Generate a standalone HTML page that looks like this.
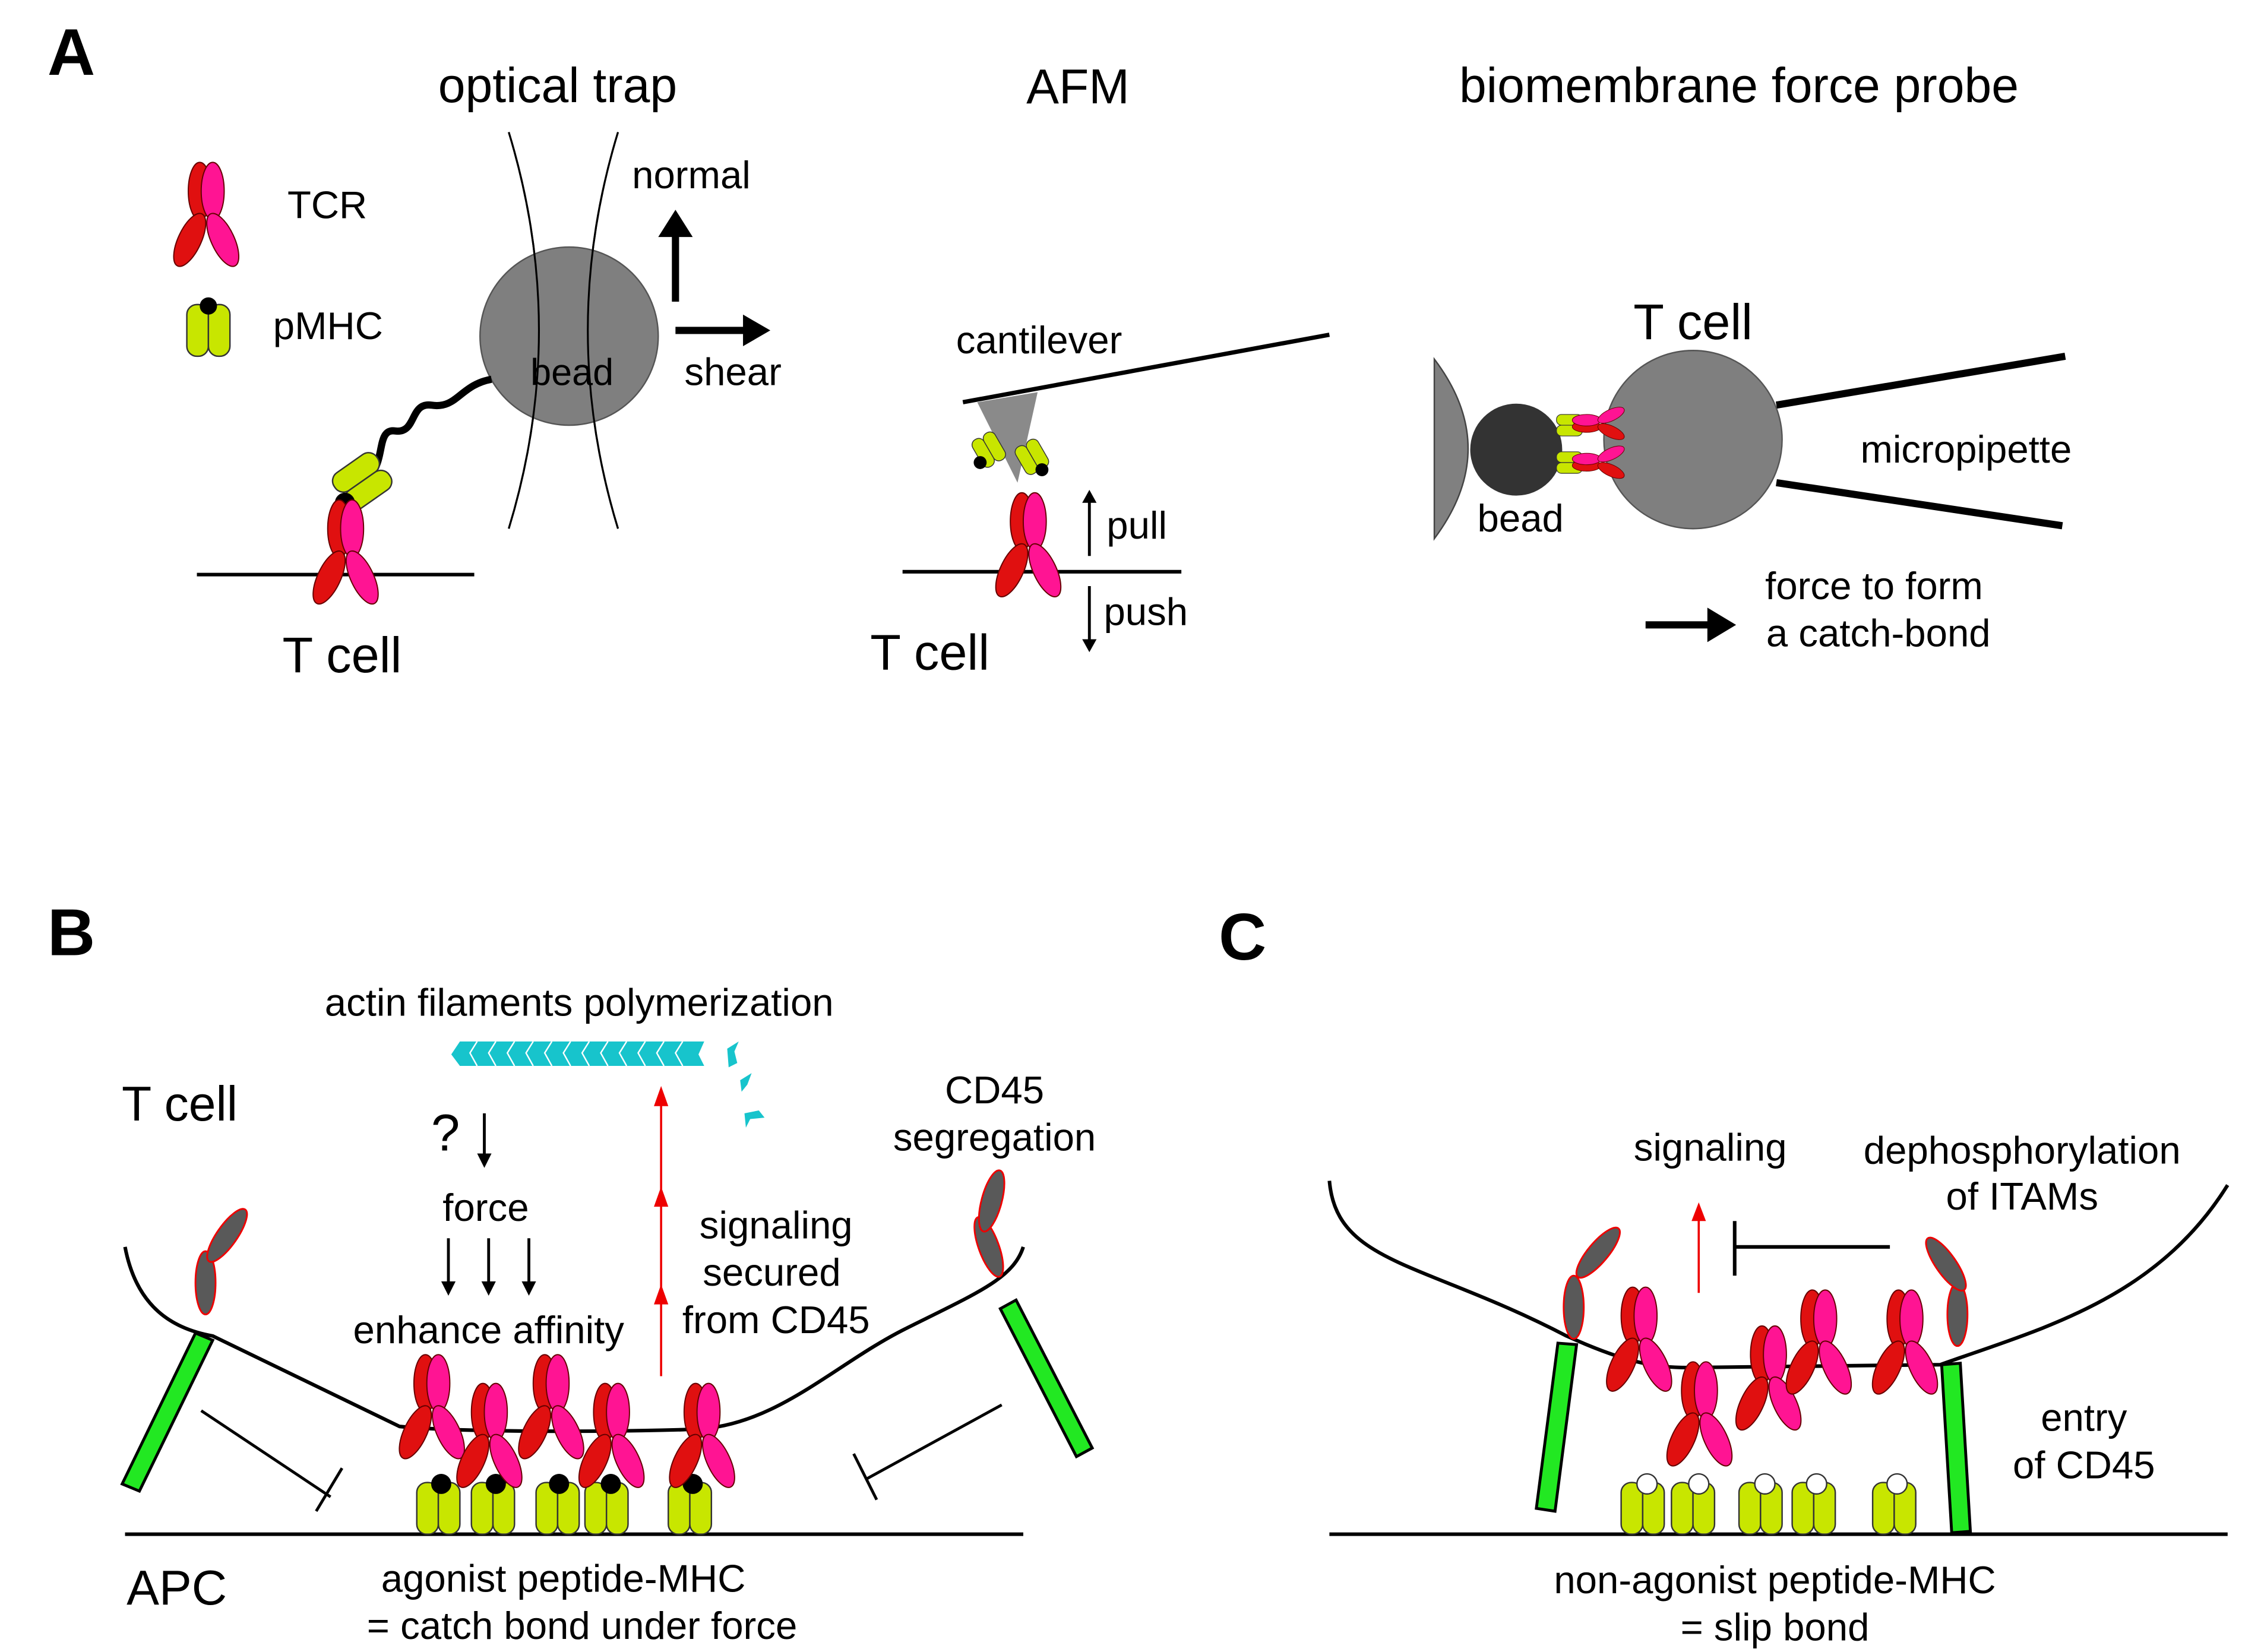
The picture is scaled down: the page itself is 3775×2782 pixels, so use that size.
<!DOCTYPE html>
<html><head><meta charset="utf-8"><style>
html,body{margin:0;padding:0;background:#fff;}
svg{display:block;}
text{font-family:"Liberation Sans",Arial,sans-serif;fill:#000;}
</style></head><body>
<svg width="3775" height="2782" viewBox="0 0 1560 1150" preserveAspectRatio="none" xmlns="http://www.w3.org/2000/svg">
<defs>
<g id="tcr">
  <ellipse cx="-4" cy="-22" rx="8" ry="20" fill="#e01010" stroke="#600" stroke-width="0.8"/>
  <ellipse cx="5" cy="-22" rx="8" ry="20" fill="#ff1493" stroke="#600" stroke-width="0.8"/>
  <ellipse cx="-11" cy="12" rx="8" ry="20" transform="rotate(25 -11 12)" fill="#e01010" stroke="#600" stroke-width="0.8"/>
  <ellipse cx="12" cy="12" rx="8" ry="20" transform="rotate(-25 12 12)" fill="#ff1493" stroke="#600" stroke-width="0.8"/>
</g>
<g id="mhc">
  <rect x="-15" y="-18" width="15" height="36" rx="7" fill="#c8e600" stroke="#333" stroke-width="1"/>
  <rect x="0" y="-18" width="15" height="36" rx="7" fill="#c8e600" stroke="#333" stroke-width="1"/>
</g>
<g id="cd45h">
  <ellipse cx="0" cy="0" rx="7" ry="22" fill="#595959" stroke="#e00" stroke-width="1.2"/>
</g>
</defs>

<!-- PANEL A -->
<text x="33" y="52" font-size="46" font-weight="bold">A</text>
<text x="388" y="71" font-size="34" text-anchor="middle">optical trap</text>
<text x="750" y="72" font-size="34" text-anchor="middle">AFM</text>
<text x="1210" y="71" font-size="34" text-anchor="middle">biomembrane force probe</text>

<!-- legend -->
<use href="#tcr" x="143" y="155"/>
<text x="200" y="152" font-size="27">TCR</text>
<use href="#mhc" x="145" y="230"/>
<circle cx="145" cy="213" r="6" fill="#000"/>
<text x="190" y="236" font-size="27">pMHC</text>

<!-- optical trap -->
<path d="M354,92 Q396,230 354,368" fill="none" stroke="#000" stroke-width="1.3"/>
<path d="M430,92 Q388,230 430,368" fill="none" stroke="#000" stroke-width="1.3"/>
<circle cx="396" cy="234" r="62" fill="#7f7f7f" stroke="#555" stroke-width="1"/>
<path d="M354,92 Q396,230 354,368" fill="none" stroke="#000" stroke-width="1.3"/>
<path d="M430,92 Q388,230 430,368" fill="none" stroke="#000" stroke-width="1.3"/>
<text x="398" y="268" font-size="26" text-anchor="middle">bead</text>
<line x1="470" y1="210" x2="470" y2="162" stroke="#000" stroke-width="5"/>
<polygon points="458,165 470,146 482,165" fill="#000"/>
<line x1="470" y1="230" x2="520" y2="230" stroke="#000" stroke-width="5"/>
<polygon points="517,219 536,230 517,241" fill="#000"/>
<text x="481" y="131" font-size="27" text-anchor="middle">normal</text>
<text x="510" y="268" font-size="27" text-anchor="middle">shear</text>
<path d="M342,264 C320,268 318,285 300,282 C285,280 290,302 275,300 C262,298 268,320 258,330" fill="none" stroke="#000" stroke-width="5"/>
<g transform="translate(252,335) rotate(55)"><use href="#mhc"/></g>
<circle cx="240" cy="350" r="7" fill="#000"/>
<line x1="137" y1="400" x2="330" y2="400" stroke="#000" stroke-width="2.5"/>
<use href="#tcr" x="240" y="390"/>
<text x="238" y="468" font-size="35" text-anchor="middle">T cell</text>

<!-- AFM -->
<line x1="670" y1="280" x2="925" y2="233" stroke="#000" stroke-width="3"/>
<polygon points="680,280 722,273 708,336" fill="#8a8a8a"/>
<text x="723" y="246" font-size="27" text-anchor="middle">cantilever</text>
<g transform="translate(688,313) rotate(-30) scale(0.6)"><use href="#mhc"/></g>
<g transform="translate(718,318) rotate(-30) scale(0.6)"><use href="#mhc"/></g>
<circle cx="682" cy="322" r="4.5" fill="#000"/>
<circle cx="725" cy="327" r="4.5" fill="#000"/>
<line x1="628" y1="398" x2="822" y2="398" stroke="#000" stroke-width="2.5"/>
<use href="#tcr" x="715" y="385"/>
<line x1="758" y1="387" x2="758" y2="347" stroke="#000" stroke-width="2"/>
<polygon points="753,350 758,341 763,350" fill="#000"/>
<line x1="758" y1="408" x2="758" y2="448" stroke="#000" stroke-width="2"/>
<polygon points="753,445 758,454 763,445" fill="#000"/>
<text x="770" y="375" font-size="27">pull</text>
<text x="768" y="435" font-size="27">push</text>
<text x="647" y="466" font-size="35" text-anchor="middle">T cell</text>

<!-- BFP -->
<path d="M998,250 Q1045,312 998,375 Z" fill="#808080" stroke="#444" stroke-width="1"/>
<circle cx="1055" cy="313" r="32" fill="#333"/>
<circle cx="1178" cy="306" r="62" fill="#7f7f7f" stroke="#555" stroke-width="1"/>
<line x1="1236" y1="282" x2="1437" y2="248" stroke="#000" stroke-width="5"/>
<line x1="1236" y1="336" x2="1435" y2="366" stroke="#000" stroke-width="5"/>
<g transform="translate(1092,296) rotate(90) scale(0.5)"><use href="#mhc"/></g>
<g transform="translate(1092,322) rotate(90) scale(0.5)"><use href="#mhc"/></g>
<circle cx="1098" cy="293" r="3.5" fill="#000"/>
<circle cx="1098" cy="320" r="3.5" fill="#000"/>
<g transform="translate(1115,295) rotate(-90) scale(0.5)"><use href="#tcr"/></g>
<g transform="translate(1115,322) rotate(-90) scale(0.5)"><use href="#tcr"/></g>
<text x="1178" y="236" font-size="35" text-anchor="middle">T cell</text>
<text x="1058" y="370" font-size="27" text-anchor="middle">bead</text>
<text x="1368" y="322" font-size="27" text-anchor="middle">micropipette</text>
<line x1="1145" y1="435" x2="1192" y2="435" stroke="#000" stroke-width="5"/>
<polygon points="1188,423 1208,435 1188,447" fill="#000"/>
<text x="1304" y="417" font-size="27" text-anchor="middle">force to form</text>
<text x="1307" y="450" font-size="27" text-anchor="middle">a catch-bond</text>

<!-- PANEL B -->
<text x="33" y="665" font-size="46" font-weight="bold">B</text>
<text x="403" y="707" font-size="27" text-anchor="middle">actin filaments polymerization</text>
<polygon points="320,725 490,725 486,734 490,742 320,742 314,734" fill="#17c4cc"/>
<g stroke="#fff" stroke-width="1" fill="none">
<path d="M332,725 l-5,8 l5,9 M345,725 l-5,8 l5,9 M358,725 l-5,8 l5,9 M371,725 l-5,8 l5,9 M384,725 l-5,8 l5,9 M397,725 l-5,8 l5,9 M410,725 l-5,8 l5,9 M423,725 l-5,8 l5,9 M436,725 l-5,8 l5,9 M449,725 l-5,8 l5,9 M462,725 l-5,8 l5,9 M475,725 l-5,8 l5,9"/>
</g>
<path d="M506,730 l8,-5 l-3,7 l2,8 l-6,3 Z" fill="#17c4cc"/>
<path d="M515,752 l8,-5 l-3,8 l-4,5 Z" fill="#17c4cc"/>
<path d="M518,775 l10,-2 l4,5 l-10,1 l-3,6 Z" fill="#17c4cc"/>
<text x="125" y="780" font-size="34" text-anchor="middle">T cell</text>
<text x="310" y="801" font-size="36" text-anchor="middle">?</text>
<line x1="337" y1="775" x2="337" y2="806" stroke="#000" stroke-width="2"/>
<polygon points="332,803 337,813 342,803" fill="#000"/>
<text x="338" y="850" font-size="27" text-anchor="middle">force</text>
<g stroke="#000" stroke-width="2">
<line x1="312" y1="862" x2="312" y2="895"/><line x1="340" y1="862" x2="340" y2="895"/><line x1="368" y1="862" x2="368" y2="895"/>
</g>
<polygon points="307,892 312,902 317,892" fill="#000"/>
<polygon points="335,892 340,902 345,892" fill="#000"/>
<polygon points="363,892 368,902 373,892" fill="#000"/>
<text x="340" y="935" font-size="27" text-anchor="middle">enhance affinity</text>
<line x1="460" y1="958" x2="460" y2="760" stroke="#e00" stroke-width="1.5"/>
<polygon points="455,770 460,756 465,770" fill="#e00"/>
<polygon points="455,840 460,826 465,840" fill="#e00"/>
<polygon points="455,908 460,894 465,908" fill="#e00"/>
<text x="540" y="862" font-size="27" text-anchor="middle">signaling</text>
<text x="537" y="895" font-size="27" text-anchor="middle">secured</text>
<text x="540" y="928" font-size="27" text-anchor="middle">from CD45</text>
<text x="692" y="768" font-size="27" text-anchor="middle">CD45</text>
<text x="692" y="801" font-size="27" text-anchor="middle">segregation</text>

<path d="M87,868 C95,910 120,925 148,930 C200,955 240,975 278,993 C320,997 420,997 483,995 C540,993 580,950 630,925 C680,900 705,890 712,868" fill="none" stroke="#000" stroke-width="2.5"/>
<line x1="87" y1="1068" x2="712" y2="1068" stroke="#000" stroke-width="2.5"/>
<text x="123" y="1117" font-size="34" text-anchor="middle">APC</text>
<text x="392" y="1108" font-size="27" text-anchor="middle">agonist peptide-MHC</text>
<text x="405" y="1141" font-size="27" text-anchor="middle">= catch bond under force</text>

<!-- left CD45 B -->
<polygon points="136,928 148,933 97,1038 85,1033" fill="#22e822" stroke="#000" stroke-width="2"/>
<use href="#cd45h" x="143" y="893"/>
<g transform="translate(158,860) rotate(35)"><use href="#cd45h"/></g>
<!-- right CD45 B -->
<polygon points="696,911 707,905 760,1008 749,1014" fill="#22e822" stroke="#000" stroke-width="2"/>
<g transform="translate(688,868) rotate(-20)"><use href="#cd45h"/></g>
<g transform="translate(690,836) rotate(15)"><use href="#cd45h"/></g>
<!-- inhibition -->
<line x1="140" y1="982" x2="230" y2="1042" stroke="#000" stroke-width="2"/>
<line x1="238" y1="1022" x2="220" y2="1052" stroke="#000" stroke-width="2"/>
<line x1="697" y1="978" x2="602" y2="1030" stroke="#000" stroke-width="2"/>
<line x1="594" y1="1012" x2="610" y2="1044" stroke="#000" stroke-width="2"/>
<!-- MHCs B -->
<use href="#mhc" x="305" y="1050"/><use href="#mhc" x="343" y="1050"/>
<use href="#mhc" x="388" y="1050"/><use href="#mhc" x="422" y="1050"/>
<use href="#mhc" x="480" y="1050"/>
<circle cx="307" cy="1033" r="7" fill="#000"/><circle cx="345" cy="1033" r="7" fill="#000"/>
<circle cx="389" cy="1033" r="7" fill="#000"/><circle cx="425" cy="1033" r="7" fill="#000"/>
<circle cx="482" cy="1033" r="7" fill="#000"/>
<!-- TCRs B -->
<use href="#tcr" x="300" y="985"/>
<use href="#tcr" x="340" y="1005"/>
<use href="#tcr" x="383" y="985"/>
<use href="#tcr" x="425" y="1005"/>
<use href="#tcr" x="488" y="1005"/>

<!-- PANEL C -->
<text x="848" y="668" font-size="46" font-weight="bold">C</text>
<text x="1190" y="808" font-size="27" text-anchor="middle">signaling</text>
<line x1="1182" y1="900" x2="1182" y2="845" stroke="#e00" stroke-width="1.5"/>
<polygon points="1177,850 1182,837 1187,850" fill="#e00"/>
<line x1="1315" y1="868" x2="1207" y2="868" stroke="#000" stroke-width="2.5"/>
<line x1="1207" y1="850" x2="1207" y2="888" stroke="#000" stroke-width="2.5"/>
<text x="1407" y="810" font-size="27" text-anchor="middle">dephosphorylation</text>
<text x="1407" y="842" font-size="27" text-anchor="middle">of ITAMs</text>
<text x="1450" y="996" font-size="27" text-anchor="middle">entry</text>
<text x="1450" y="1029" font-size="27" text-anchor="middle">of CD45</text>
<text x="1235" y="1109" font-size="27" text-anchor="middle">non-agonist peptide-MHC</text>
<text x="1235" y="1142" font-size="27" text-anchor="middle">= slip bond</text>
<path d="M925,822 C930,880 990,878 1090,930 C1130,948 1150,952 1175,952 L1350,950 C1420,925 1500,905 1550,825" fill="none" stroke="#000" stroke-width="2.5"/>
<line x1="925" y1="1068" x2="1550" y2="1068" stroke="#000" stroke-width="2.5"/>
<polygon points="1084,935 1097,936 1082,1052 1069,1050" fill="#22e822" stroke="#000" stroke-width="2"/>
<polygon points="1351,950 1364,949 1371,1066 1358,1067" fill="#22e822" stroke="#000" stroke-width="2"/>
<use href="#cd45h" x="1095" y="910"/>
<g transform="translate(1112,872) rotate(40)"><use href="#cd45h"/></g>
<use href="#cd45h" x="1362" y="915"/>
<g transform="translate(1354,880) rotate(-35)"><use href="#cd45h"/></g>
<use href="#mhc" x="1143" y="1050"/><use href="#mhc" x="1178" y="1050"/>
<use href="#mhc" x="1225" y="1050"/><use href="#mhc" x="1262" y="1050"/>
<use href="#mhc" x="1318" y="1050"/>
<g fill="#fff" stroke="#333" stroke-width="1">
<circle cx="1146" cy="1033" r="7"/><circle cx="1182" cy="1033" r="7"/>
<circle cx="1228" cy="1033" r="7"/><circle cx="1264" cy="1033" r="7"/>
<circle cx="1320" cy="1033" r="7"/>
</g>
<use href="#tcr" x="1140" y="938"/>
<use href="#tcr" x="1182" y="990"/>
<use href="#tcr" x="1230" y="965"/>
<use href="#tcr" x="1265" y="940"/>
<use href="#tcr" x="1325" y="940"/>
</svg>
</body></html>
